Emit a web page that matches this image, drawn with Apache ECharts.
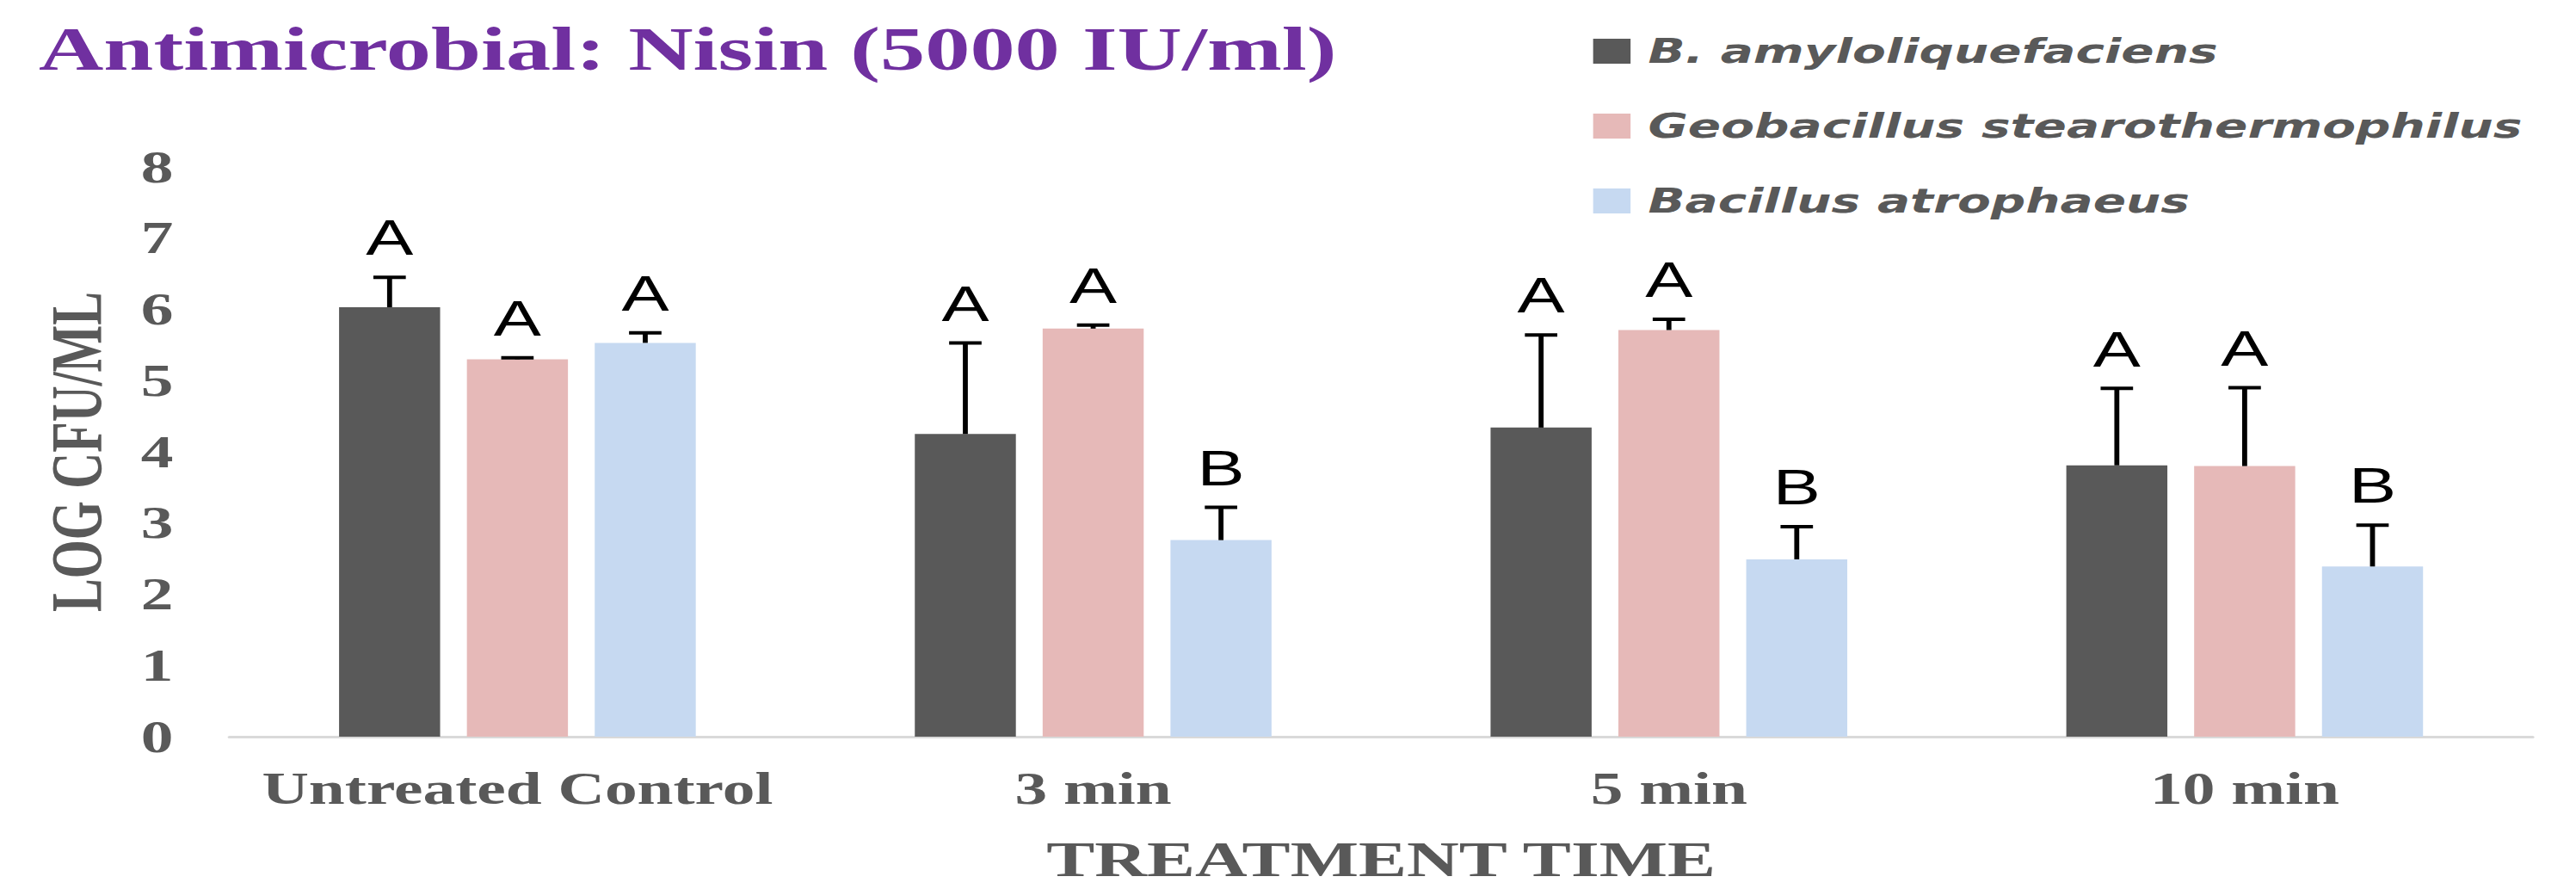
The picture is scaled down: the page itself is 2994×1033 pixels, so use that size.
<!DOCTYPE html>
<html>
<head>
<meta charset="utf-8">
<script src="https://cdn.jsdelivr.net/npm/echarts@6/dist/echarts.min.js"></script>
<style>
  html, body { margin: 0; padding: 0; background: #fff; overflow: hidden; }
  #wrap { width: 2994px; height: 1033px; overflow: hidden; }
  #chart { width: 2065px; height: 1033px; transform: scaleX(1.45); transform-origin: 0 0; }
</style>
</head>
<body>
<div id="wrap"><div id="chart"></div></div>
<script>
// ---- data ----
const categories = ['Untreated Control', '3 min', '5 min', '10 min'];
const seriesNames = ['B. amyloliquefaciens', 'Geobacillus stearothermophilus', 'Bacillus atrophaeus'];

const amyloMean = [6.03, 4.25, 4.34, 3.81];
const amyloErr  = [0.42, 1.28, 1.30, 1.08];
const amyloLetters = ['A', 'A', 'A', 'A'];

const geoMean = [5.30, 5.73, 5.71, 3.80];
const geoErr  = [0.02, 0.05, 0.15, 1.10];
const geoLetters = ['A', 'A', 'A', 'A'];

const atroMean = [5.53, 2.76, 2.49, 2.39];
const atroErr  = [0.14, 0.46, 0.46, 0.58];
const atroLetters = ['A', 'B', 'B', 'B'];

const titleText = 'Antimicrobial: Nisin (5000 IU/ml)';
const yAxisName = 'LOG CFU/ML';
const xAxisName = 'TREATMENT TIME';

// ---- styles ----
const colors = ['#595959', '#E6B9B8', '#C6D9F1'];
const BAR_W = 81;
const BAR_GAP = 0.265;
const serif = '"Liberation Serif", "Times New Roman", serif';
const grey = '#595959';

const means = [amyloMean, geoMean, atroMean];
const errs = [amyloErr, geoErr, atroErr];
const letters = [amyloLetters, geoLetters, atroLetters];

const chart = echarts.init(document.getElementById('chart'), null, { renderer: 'svg' });

const barSeries = seriesNames.map((name, s) => ({
  name: name,
  type: 'bar',
  data: means[s],
  barWidth: BAR_W,
  barGap: (BAR_GAP * 100) + '%',
  itemStyle: { color: colors[s] },
  emphasis: { disabled: true }
}));

const errSeries = seriesNames.map((name, s) => ({
  name: name + ' error',
  type: 'custom',
  z: 10,
  clip: false,
  silent: true,
  data: means[s].map((m, i) => [i, m + errs[s][i]]),
  encode: { x: 0, y: 1 },
  renderItem: function (params, api) {
    const i = params.dataIndex;
    const m = means[s][i];
    const e = errs[s][i];
    const base = api.coord([i, m]);
    const top = api.coord([i, m + e]);
    const x = base[0] + (s - 1) * BAR_W * (1 + BAR_GAP);
    return {
      type: 'group',
      children: [
        { type: 'line', shape: { x1: x, y1: base[1], x2: x, y2: top[1] },
          style: { stroke: '#000', lineWidth: 4 } },
        { type: 'line', shape: { x1: x - 13, y1: top[1], x2: x + 13, y2: top[1] },
          style: { stroke: '#000', lineWidth: 4 } },
        { type: 'text', style: { text: letters[s][i], x: x, y: top[1] - 17,
          align: 'center', verticalAlign: 'bottom', fontSize: 57,
          fontFamily: '"Liberation Sans", Arial, sans-serif', fill: '#000' } }
      ]
    };
  }
}));

chart.setOption({
  animation: false,
  backgroundColor: '#fff',
  title: {
    text: titleText,
    left: 26,
    top: 16,
    textStyle: { color: '#7030A0', fontFamily: serif, fontWeight: 'bold', fontSize: 72 }
  },
  legend: {
    data: seriesNames,
    orient: 'vertical',
    left: 1272,
    top: 35,
    itemWidth: 30,
    itemHeight: 29,
    itemGap: 48,
    icon: 'rect',
    selectedMode: false,
    textStyle: {
      fontFamily: '"DejaVu Sans", sans-serif', fontStyle: 'italic', fontWeight: 'bold',
      fontSize: 39, lineHeight: 38, color: grey, padding: [0, 0, 0, 9]
    }
  },
  grid: { left: 184, right: 35, top: 194, bottom: 166, containLabel: false },
  xAxis: {
    type: 'category',
    data: categories,
    name: xAxisName,
    nameLocation: 'middle',
    nameGap: 114,
    nameTextStyle: { color: grey, fontFamily: serif, fontWeight: 'bold', fontSize: 58 },
    axisLine: { show: true, lineStyle: { color: '#D9D9D9', width: 3 } },
    axisTick: { show: false },
    axisLabel: { color: grey, fontFamily: serif, fontWeight: 'bold', fontSize: 52, margin: 34, interval: 0 },
    splitLine: { show: false }
  },
  yAxis: {
    type: 'value',
    min: 0,
    max: 8,
    interval: 1,
    name: yAxisName,
    nameLocation: 'middle',
    nameRotate: 90,
    nameGap: 93,
    nameTextStyle: { color: grey, fontFamily: serif, fontWeight: 'bold', fontSize: 58 },
    axisLine: { show: false },
    axisTick: { show: false },
    axisLabel: { color: grey, fontFamily: serif, fontWeight: 'bold', fontSize: 52, margin: 45 },
    splitLine: { show: false }
  },
  series: barSeries.concat(errSeries)
});
</script>
</body>
</html>
